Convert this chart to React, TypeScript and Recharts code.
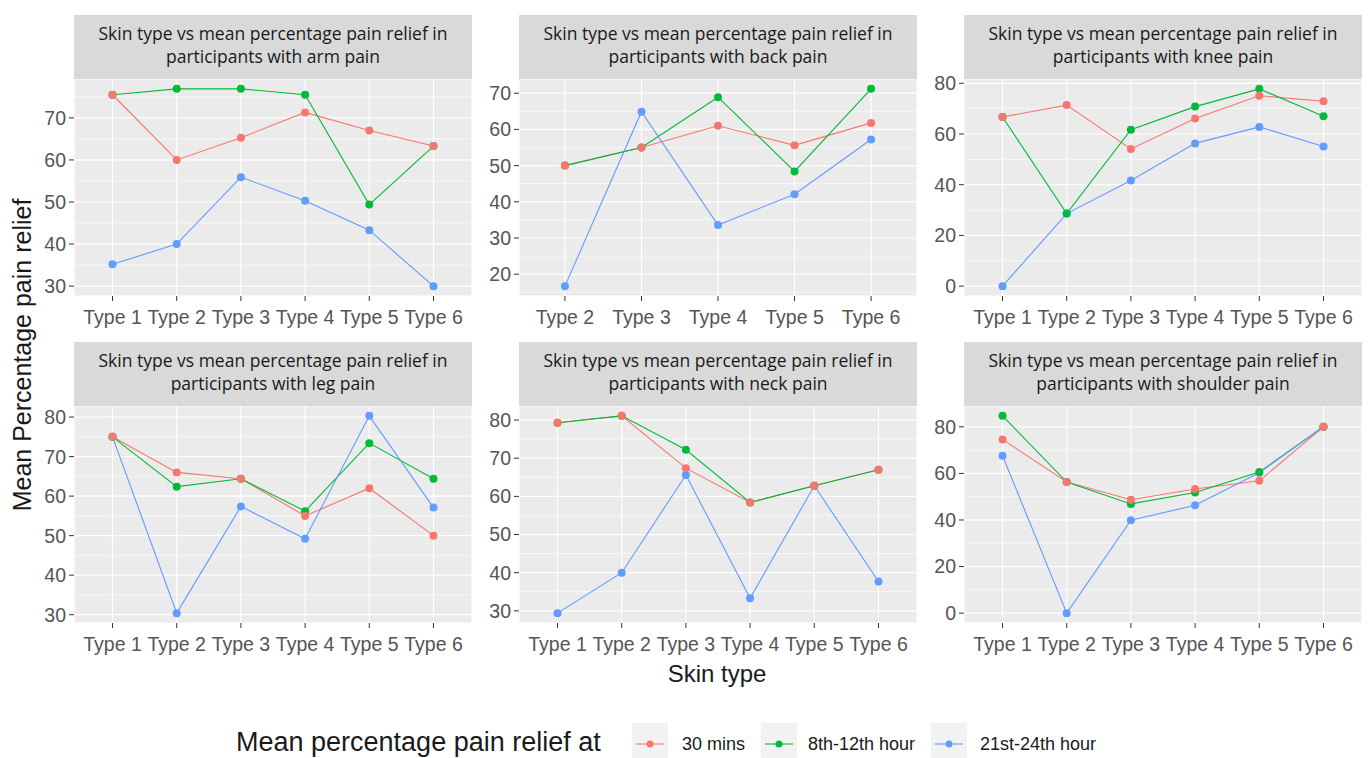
import React from "react";
import { LineChart, Line, XAxis, YAxis, CartesianGrid, ReferenceLine } from "recharts";

const SERIES_NAMES = ["30 mins", "8th-12th hour", "21st-24th hour"];
const SERIES_COLORS = ["#F8766D", "#00BA38", "#619CFF"];

const typesAll = ["Type 1", "Type 2", "Type 3", "Type 4", "Type 5", "Type 6"];
const typesBack = ["Type 2", "Type 3", "Type 4", "Type 5", "Type 6"];

const armTitle = ["Skin type vs mean percentage pain relief in", "participants with arm pain"];
const arm30 = [75.5, 60.0, 65.3, 71.3, 67.0, 63.3];
const arm8 = [75.5, 76.9, 76.9, 75.5, 49.4, 63.3];
const arm21 = [35.2, 40.0, 55.9, 50.3, 43.3, 30.0];
const armTicks = [30, 40, 50, 60, 70];

const backTitle = ["Skin type vs mean percentage pain relief in", "participants with back pain"];
const back30 = [50.0, 55.0, 61.0, 55.6, 61.8];
const back8 = [50.0, 55.0, 68.9, 48.4, 71.2];
const back21 = [16.7, 64.9, 33.6, 42.1, 57.2];
const backTicks = [20, 30, 40, 50, 60, 70];

const kneeTitle = ["Skin type vs mean percentage pain relief in", "participants with knee pain"];
const knee30 = [66.7, 71.4, 54.1, 66.1, 75.1, 72.9];
const knee8 = [66.7, 28.6, 61.7, 70.8, 77.8, 67.0];
const knee21 = [0.0, 28.6, 41.7, 56.3, 62.8, 55.1];
const kneeTicks = [0, 20, 40, 60, 80];

const legTitle = ["Skin type vs mean percentage pain relief in", "participants with leg pain"];
const leg30 = [75.0, 66.0, 64.4, 55.0, 62.0, 50.0];
const leg8 = [75.0, 62.4, 64.4, 56.2, 73.4, 64.4];
const leg21 = [75.0, 30.4, 57.4, 49.2, 80.3, 57.1];
const legTicks = [30, 40, 50, 60, 70, 80];

const neckTitle = ["Skin type vs mean percentage pain relief in", "participants with neck pain"];
const neck30 = [79.3, 81.1, 67.4, 58.4, 62.8, 67.0];
const neck8 = [79.3, 81.1, 72.2, 58.4, 62.8, 67.0];
const neck21 = [29.4, 40.0, 65.6, 33.3, 62.8, 37.7];
const neckTicks = [30, 40, 50, 60, 70, 80];

const shoulderTitle = ["Skin type vs mean percentage pain relief in", "participants with shoulder pain"];
const shoulder30 = [74.6, 56.3, 48.7, 53.3, 56.8, 80.0];
const shoulder8 = [84.7, 56.3, 46.9, 51.8, 60.6, 80.0];
const shoulder21 = [67.6, 0.0, 39.9, 46.3, 60.3, 80.0];
const shoulderTicks = [0, 20, 40, 60, 80];

const TICK_FONT = "'Liberation Sans', Arial, sans-serif";
const COL_LEFT = [74, 519, 964];
const ROW_PLOT_TOP = [79, 406];
const PLOT_W = 398;
const PLOT_H = 217;
const STRIP_H = 64;
const Y_W = 60;
const X_H = 40;
const TOP_PAD = 14;

type PanelCfg = {
  title: string[];
  cats: string[];
  s: number[][];
  ticks: number[];
};

const panels: PanelCfg[] = [
  { title: armTitle, cats: typesAll, s: [arm30, arm8, arm21], ticks: armTicks },
  { title: backTitle, cats: typesBack, s: [back30, back8, back21], ticks: backTicks },
  { title: kneeTitle, cats: typesAll, s: [knee30, knee8, knee21], ticks: kneeTicks },
  { title: legTitle, cats: typesAll, s: [leg30, leg8, leg21], ticks: legTicks },
  { title: neckTitle, cats: typesAll, s: [neck30, neck8, neck21], ticks: neckTicks },
  { title: shoulderTitle, cats: typesAll, s: [shoulder30, shoulder8, shoulder21], ticks: shoulderTicks },
];

function Panel({ cfg, left, plotTop }: { cfg: PanelCfg; left: number; plotTop: number }) {
  const data = cfg.cats.map((c, i) => ({
    x: i + 1,
    cat: c,
    a: cfg.s[0][i],
    b: cfg.s[1][i],
    c: cfg.s[2][i],
  }));
  const all = cfg.s.flat();
  const lo = Math.min(...all);
  const hi = Math.max(...all);
  const pad = (hi - lo) * 0.05;
  const dom: [number, number] = [lo - pad, hi + pad];
  const step = cfg.ticks[1] - cfg.ticks[0];
  const minor: number[] = [];
  for (let v = cfg.ticks[0] - step / 2; v <= dom[1]; v += step) {
    if (v >= dom[0]) minor.push(v);
  }
  const xTicks = cfg.cats.map((_, i) => i + 1);
  const lineKeys = ["a", "b", "c"];
  const dotKeys = ["c", "b", "a"];
  const colorOf: Record<string, string> = { a: SERIES_COLORS[0], b: SERIES_COLORS[1], c: SERIES_COLORS[2] };
  return (
    <>
      <div style={{ position: "absolute", left: left - Y_W, top: plotTop - TOP_PAD }}>
        <LineChart
          width={PLOT_W + Y_W}
          height={PLOT_H + X_H + TOP_PAD}
          data={data}
          margin={{ top: TOP_PAD, right: 0, bottom: 0, left: 0 }}
        >
          <CartesianGrid fill="#ebebeb" stroke="#ffffff" strokeWidth={1.2} />
          {minor.map((v) => (
            <ReferenceLine key={v} y={v} stroke="#ffffff" strokeWidth={0.6} />
          ))}
          <XAxis
            type="number"
            dataKey="x"
            domain={[0.4, cfg.cats.length + 0.6]}
            ticks={xTicks}
            interval={0}
            tickFormatter={(v: number) => cfg.cats[v - 1]}
            axisLine={false}
            tickLine={{ stroke: "#333333" }}
            tickSize={5}
            tickMargin={9}
            height={X_H}
            tick={{ fill: "#555555", fontSize: 19.5, fontFamily: TICK_FONT }}
            allowDataOverflow
          />
          <YAxis
            type="number"
            domain={dom}
            ticks={cfg.ticks}
            interval={0}
            axisLine={false}
            tickLine={{ stroke: "#333333" }}
            tickSize={5}
            tickMargin={3}
            width={Y_W}
            tick={{ fill: "#555555", fontSize: 19.5, fontFamily: TICK_FONT }}
            allowDataOverflow
          />
          {lineKeys.map((k) => (
            <Line
              key={"l" + k}
              type="linear"
              dataKey={k}
              stroke={colorOf[k]}
              strokeWidth={1.1}
              dot={false}
              activeDot={false}
              isAnimationActive={false}
            />
          ))}
          {dotKeys.map((k) => (
            <Line
              key={"d" + k}
              type="linear"
              dataKey={k}
              stroke="none"
              strokeWidth={0}
              dot={{ r: 4, fill: colorOf[k], stroke: colorOf[k], strokeWidth: 0 }}
              activeDot={false}
              isAnimationActive={false}
            />
          ))}
        </LineChart>
      </div>
      <div
        style={{
          position: "absolute",
          left,
          top: plotTop - STRIP_H,
          width: PLOT_W,
          height: STRIP_H,
          background: "#d9d9d9",
          fontFamily: "'Open Sans', sans-serif",
          fontSize: 17.5,
          color: "#1a1a1a",
          textAlign: "center",
          lineHeight: "23px",
          paddingTop: 7,
          boxSizing: "border-box",
          whiteSpace: "nowrap",
        }}
      >
        {cfg.title.map((t, i) => (
          <div key={i}>{t}</div>
        ))}
      </div>
    </>
  );
}

export default function App() {
  const keyX = [632, 761, 931];
  const labelX = [682, 808, 980];
  return (
    <div
      style={{
        position: "absolute",
        left: 0,
        top: 0,
        width: 1369,
        height: 758,
        background: "#ffffff",
        overflow: "hidden",
      }}
    >
      {panels.map((p, i) => (
        <Panel key={i} cfg={p} left={COL_LEFT[i % 3]} plotTop={ROW_PLOT_TOP[Math.floor(i / 3)]} />
      ))}
      <svg
        width={1369}
        height={758}
        style={{ position: "absolute", left: 0, top: 0, pointerEvents: "none" }}
      >
        <text
          x={22}
          y={355}
          transform="rotate(-90, 22, 355)"
          textAnchor="middle"
          dominantBaseline="central"
          fontSize={25}
          fontFamily={TICK_FONT}
          fill="#1a1a1a"
        >
          Mean Percentage pain relief
        </text>
        <text x={717} y={682} textAnchor="middle" fontSize={24} fontFamily={TICK_FONT} fill="#1a1a1a">
          Skin type
        </text>
        <text x={236} y={751} fontSize={27} fontFamily={TICK_FONT} fill="#1a1a1a">
          Mean percentage pain relief at
        </text>
        {SERIES_NAMES.map((n, i) => (
          <g key={n}>
            <rect x={keyX[i]} y={723} width={36} height={36} fill="#f2f2f2" />
            <line
              x1={keyX[i] + 4}
              x2={keyX[i] + 32}
              y1={744}
              y2={744}
              stroke={SERIES_COLORS[i]}
              strokeWidth={1.1}
            />
            <circle cx={keyX[i] + 18} cy={744} r={3.5} fill={SERIES_COLORS[i]} />
            <text
              x={labelX[i]}
              y={744}
              dominantBaseline="central"
              fontSize={18}
              fontFamily={TICK_FONT}
              fill="#1a1a1a"
            >
              {n}
            </text>
          </g>
        ))}
      </svg>
    </div>
  );
}
